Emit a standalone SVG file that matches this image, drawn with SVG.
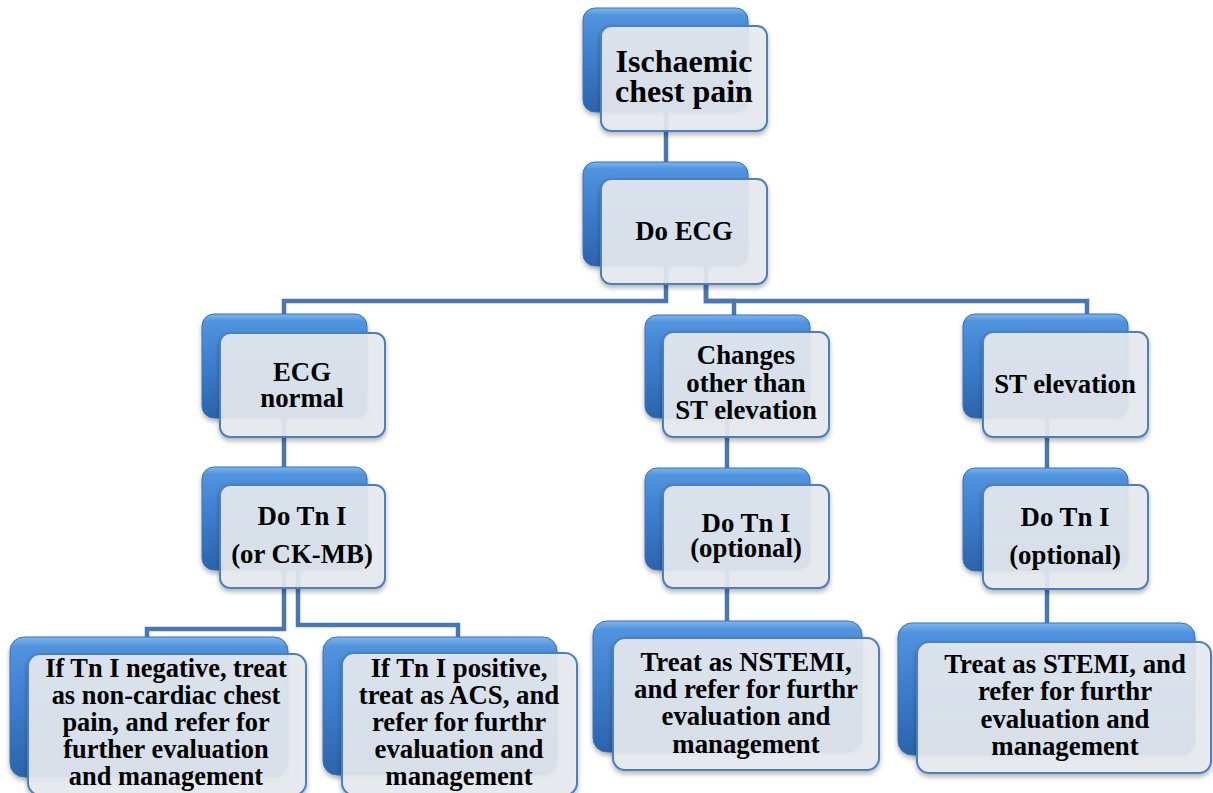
<svg xmlns="http://www.w3.org/2000/svg" width="1213" height="793" viewBox="0 0 1213 793">
<defs>
<linearGradient id="blueG" x1="0" y1="0" x2="0" y2="1">
<stop offset="0" stop-color="#7db6ee"/>
<stop offset="0.07" stop-color="#5193de"/>
<stop offset="0.5" stop-color="#3c7dcc"/>
<stop offset="1" stop-color="#2c63ab"/>
</linearGradient>
<filter id="sh" x="-10%" y="-10%" width="120%" height="130%">
<feDropShadow dx="0" dy="3" stdDeviation="2.5" flood-color="#000" flood-opacity="0.3"/>
</filter>
</defs>
<style>
.back{fill:url(#blueG);stroke:#3a71b8;stroke-width:1;filter:url(#sh)}
.front{fill:#e8ebf1;fill-opacity:0.9;stroke:#4e7fbe;stroke-width:2;filter:url(#sh)}
.conn{fill:none;stroke:#4a77b3;stroke-width:4.5}
text{font-family:"Liberation Serif","Times New Roman",serif;font-weight:bold;font-size:26.8px;fill:#000;text-anchor:middle}
.big{font-size:32px}
.sm{font-size:26.4px}
</style>
<rect width="1213" height="793" fill="#fff"/>
<g id="connectors">
<path class="conn" d="M666,112 V162"/>
<path class="conn" d="M666,266 V301 H284 V315"/>
<path class="conn" d="M706,266 V301 H734 V316"/>
<path class="conn" d="M706,266 V301 H1087 V315"/>
<path class="conn" d="M284,418 V467"/>
<path class="conn" d="M284,570 V629 H147 V637"/>
<path class="conn" d="M298,570 V625 H458 V637"/>
<path class="conn" d="M727,418 V468"/>
<path class="conn" d="M727,570 V621"/>
<path class="conn" d="M1047,418 V468"/>
<path class="conn" d="M1047,571 V623"/>
</g>
<g id="n-title">
<rect class="back" x="583" y="8" width="165" height="104" rx="12"/>
<rect class="front" x="601" y="26" width="166" height="105" rx="10"/>
<text class="big" x="684" y="72">Ischaemic<tspan x="684" dy="30">chest pain</tspan></text>
</g>
<g id="n-ecg">
<rect class="back" x="583" y="162" width="165" height="104" rx="12"/>
<rect class="front" x="601" y="179" width="166" height="105" rx="10"/>
<text x="684" y="240">Do ECG</text>
</g>
<g id="n-normal">
<rect class="back" x="202" y="314" width="165" height="104" rx="12"/>
<rect class="front" x="220" y="333" width="165" height="104" rx="10"/>
<text x="302" y="381">ECG<tspan x="302" dy="26">normal</tspan></text>
</g>
<g id="n-tn1">
<rect class="back" x="202" y="467" width="165" height="103" rx="12"/>
<rect class="front" x="220" y="485" width="165" height="103" rx="10"/>
<text x="302" y="525">Do Tn I<tspan x="302" dy="38">(or CK-MB)</tspan></text>
</g>
<g id="n-neg">
<rect class="back" x="10" y="637" width="278" height="140" rx="14"/>
<rect class="front" x="28" y="654" width="278" height="141" rx="12"/>
<text class="sm" x="166" y="677">If Tn I negative, treat<tspan x="166" dy="27">as non-cardiac chest</tspan><tspan x="166" dy="27">pain, and refer for</tspan><tspan x="166" dy="27">further evaluation</tspan><tspan x="166" dy="27">and management</tspan></text>
</g>
<g id="n-pos">
<rect class="back" x="323" y="637" width="234" height="138" rx="14"/>
<rect class="front" x="342" y="653" width="235" height="142" rx="12"/>
<text x="459" y="677">If Tn I positive,<tspan x="459" dy="26.5">treat as ACS, and</tspan><tspan x="459" dy="27">refer for furthr</tspan><tspan x="459" dy="27">evaluation and</tspan><tspan x="459" dy="27.5">management</tspan></text>
</g>
<g id="n-changes">
<rect class="back" x="645" y="315" width="165" height="103" rx="12"/>
<rect class="front" x="663" y="332" width="166" height="105" rx="10"/>
<text x="746" y="364">Changes<tspan x="746" dy="28">other than</tspan><tspan x="746" dy="27">ST elevation</tspan></text>
</g>
<g id="n-tn2">
<rect class="back" x="645" y="468" width="165" height="102" rx="12"/>
<rect class="front" x="663" y="485" width="166" height="103" rx="10"/>
<text x="746" y="532">Do Tn I<tspan x="746" dy="25">(optional)</tspan></text>
</g>
<g id="n-nstemi">
<rect class="back" x="593" y="621" width="269" height="131" rx="14"/>
<rect class="front" x="613" y="638" width="266" height="132" rx="12"/>
<text x="746" y="671">Treat as NSTEMI,<tspan x="746" dy="26.5">and refer for furthr</tspan><tspan x="746" dy="27.5">evaluation and</tspan><tspan x="746" dy="28">management</tspan></text>
</g>
<g id="n-st">
<rect class="back" x="963" y="314" width="165" height="104" rx="12"/>
<rect class="front" x="983" y="332" width="165" height="105" rx="10"/>
<text x="1065" y="393">ST elevation</text>
</g>
<g id="n-tn3">
<rect class="back" x="963" y="468" width="165" height="103" rx="12"/>
<rect class="front" x="983" y="485" width="165" height="104" rx="10"/>
<text x="1065" y="526">Do Tn I<tspan x="1065" dy="38">(optional)</tspan></text>
</g>
<g id="n-stemi">
<rect class="back" x="898" y="623" width="297" height="132" rx="14"/>
<rect class="front" x="917" y="642" width="294" height="131" rx="12"/>
<text x="1065" y="673">Treat as STEMI, and<tspan x="1065" dy="27">refer for furthr</tspan><tspan x="1065" dy="28">evaluation and</tspan><tspan x="1065" dy="27">management</tspan></text>
</g>
</svg>
